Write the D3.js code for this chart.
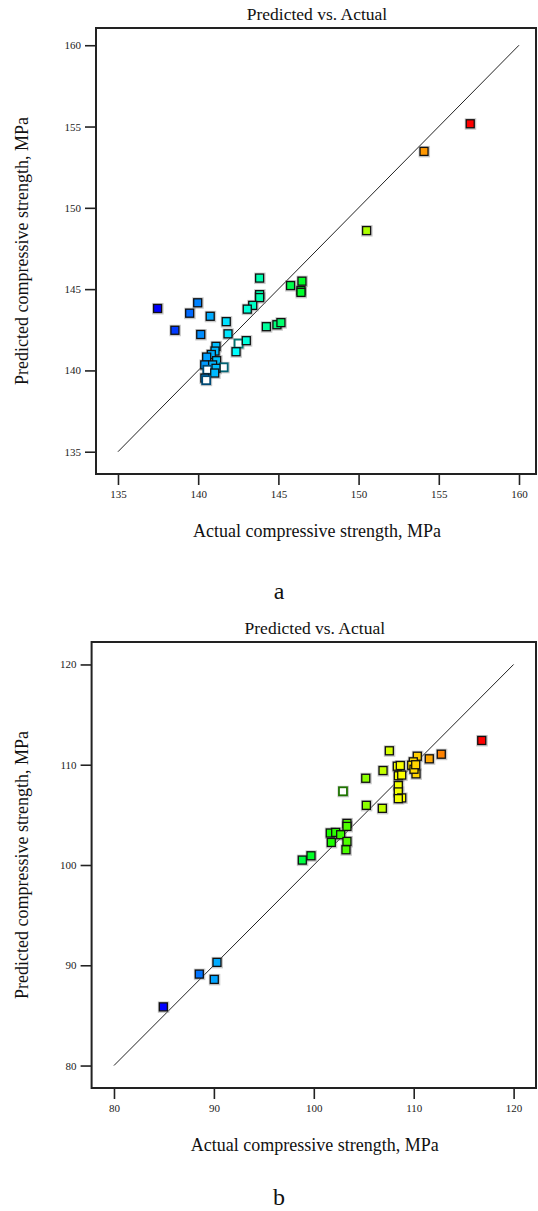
<!DOCTYPE html>
<html>
<head>
<meta charset="utf-8">
<script src="https://cdn.jsdelivr.net/npm/d3@7"></script>
<style>
  html, body { margin: 0; padding: 0; background: #fff; }
  svg { display: block; }
</style>
</head>
<body>
<svg id="chart" width="538" height="1211"></svg>
<script>
// Panel a: actual vs predicted compressive strength (MPa)
const actualA = [
  137.47, 138.55, 139.47, 139.97, 140.16, 140.75, 141.75, 141.86, 142.52, 143.00,
  142.36, 143.83, 143.83, 143.83, 143.40, 143.06, 144.25, 144.91, 145.16, 145.76,
  146.47, 146.41, 146.41,
  141.11, 141.05, 140.82, 140.53, 141.15, 140.41, 140.90, 141.59, 141.11, 140.57,
  141.03, 140.42, 140.50,
  150.50, 154.08, 156.96
];
const predictedA = [
  143.81, 142.47, 143.52, 144.16, 142.21, 143.33, 143.00, 142.25, 141.65, 141.83,
  141.15, 145.68, 144.66, 144.48, 144.00, 143.77, 142.69, 142.81, 142.94, 145.22,
  145.49, 144.91, 144.80,
  141.48, 141.19, 140.98, 140.82, 140.60, 140.34, 140.34, 140.19, 140.13, 140.04,
  139.84, 139.53, 139.40,
  148.60, 153.47, 155.17
];
const hollowA = [8, 30, 32, 35];

// Panel b
const actualB = [
  84.94, 88.54, 90.31, 90.04,
  98.85, 99.72,
  101.65, 102.19, 102.69, 101.75, 103.32, 103.22, 103.32, 103.32,
  102.92,
  105.20, 105.26, 106.86, 106.93, 107.56,
  108.46, 108.46, 108.80, 108.46, 108.46, 108.80, 108.36, 108.66,
  110.36, 109.96, 109.80, 110.23, 110.03, 110.20,
  111.56, 112.76, 116.81
];
const predictedB = [
  85.85, 89.12, 90.29, 88.59,
  100.49, 100.92,
  103.19, 103.25, 103.02, 102.25, 102.35, 101.52, 104.15, 103.85,
  107.35,
  108.65, 105.95, 105.65, 109.42, 111.39,
  107.92, 107.29, 106.69, 106.62, 108.90, 108.97, 109.85, 109.92,
  110.85, 110.29, 109.95, 109.09, 109.55, 110.00,
  110.59, 111.05, 112.42
];
const hollowB = [14];

const ticksA = [135, 140, 145, 150, 155, 160];
const ticksB = [80, 90, 100, 110, 120];
const lineA = [135, 160];
const lineB = [80, 120];

const titleText = "Predicted vs. Actual";
const xTitle = "Actual compressive strength, MPa";
const yTitle = "Predicted compressive strength, MPa";

const FONT = '"Liberation Serif", "Times New Roman", Tinos, serif';
const svg = d3.select("#chart");

function label(g, txt, size) {
  return g.append("text")
    .attr("font-family", FONT)
    .attr("font-size", size)
    .attr("fill", "#111")
    .attr("text-anchor", "middle")
    .text(txt);
}

function panel(cfg) {
  const { top, bottom, left, right, domain, ticks, actual, predicted, hollow, diag, letter, letterY } = cfg;
  const g = svg.append("g");

  const x = d3.scaleLinear().domain(domain).range([left, right]);
  const y = d3.scaleLinear().domain(domain).range([bottom, top]);

  const lo = d3.min(actual), hi = d3.max(actual);
  const color = d3.scaleLinear()
    .domain([0, 0.25, 0.5, 0.75, 1].map(t => lo + t * (hi - lo)))
    .range(["#0000ff", "#00ffff", "#00ff00", "#ffff00", "#ff0000"]);

  // title
  label(g, titleText, 17.5)
    .attr("x", (left + right) / 2 + 1).attr("y", top - 8);

  // axes
  const xAxis = d3.axisBottom(x).tickValues(ticks).tickSize(11).tickSizeOuter(0).tickPadding(5);
  const yAxis = d3.axisLeft(y).tickValues(ticks).tickSize(11).tickSizeOuter(0).tickPadding(4);

  const gx = g.append("g").attr("transform", `translate(0,${bottom})`).call(xAxis);
  const gy = g.append("g").attr("transform", `translate(${left},0)`).call(yAxis);
  [gx, gy].forEach(a => {
    a.attr("font-family", FONT).attr("font-size", 11);
    a.select(".domain").remove();
    a.selectAll(".tick line").attr("stroke", "#222").attr("stroke-width", 1.6);
    a.selectAll(".tick text").attr("fill", "#222");
  });

  // frame
  g.append("rect")
    .attr("x", left).attr("y", top)
    .attr("width", right - left).attr("height", bottom - top)
    .attr("fill", "none").attr("stroke", "#222").attr("stroke-width", 2);

  // identity line
  g.append("line")
    .attr("x1", x(diag[0])).attr("y1", y(diag[0]))
    .attr("x2", x(diag[1])).attr("y2", y(diag[1]))
    .attr("stroke", "#222").attr("stroke-width", 1);

  // points
  const s = 8;
  const pts = actual.map((a, i) => ({ a, p: predicted[i], hollow: hollow.includes(i) }));
  const pg = g.append("g");
  // soft gray halo beneath each marker
  pg.selectAll("rect.halo").data(pts).join("rect")
    .attr("class", "halo")
    .attr("x", d => x(d.a) - s / 2 - 1.5)
    .attr("y", d => y(d.p) - s / 2 - 1.5)
    .attr("width", s + 3.5).attr("height", s + 3.5)
    .attr("fill", "#888").attr("opacity", 0.45);
  pg.selectAll("rect.pt").data(pts).join("rect")
    .attr("class", "pt")
    .attr("x", d => x(d.a) - s / 2)
    .attr("y", d => y(d.p) - s / 2)
    .attr("width", s).attr("height", s)
    .attr("fill", d => d.hollow ? "#fff" : color(d.a))
    .attr("stroke", d => d.hollow ? d3.color(color(d.a)).darker(2.2) : "#111")
    .attr("stroke-width", d => d.hollow ? 1.8 : 1.3);

  // axis titles
  label(g, xTitle, 18)
    .attr("x", (left + right) / 2 + 1).attr("y", bottom + 63);
  label(g, yTitle, 18)
    .attr("transform", `translate(28,${(top + bottom) / 2}) rotate(-90)`);

  // panel letter
  label(g, letter, 24)
    .attr("x", 279).attr("y", letterY);
}

panel({
  top: 28, bottom: 474, left: 96, right: 536,
  domain: [133.63, 161.06],
  ticks: ticksA, actual: actualA, predicted: predictedA, hollow: hollowA,
  diag: lineA, letter: "a", letterY: 599
});

panel({
  top: 642, bottom: 1088, left: 91.6, right: 536,
  domain: [77.76, 122.24],
  ticks: ticksB, actual: actualB, predicted: predictedB, hollow: hollowB,
  diag: lineB, letter: "b", letterY: 1205
});
</script>
</body>
</html>
